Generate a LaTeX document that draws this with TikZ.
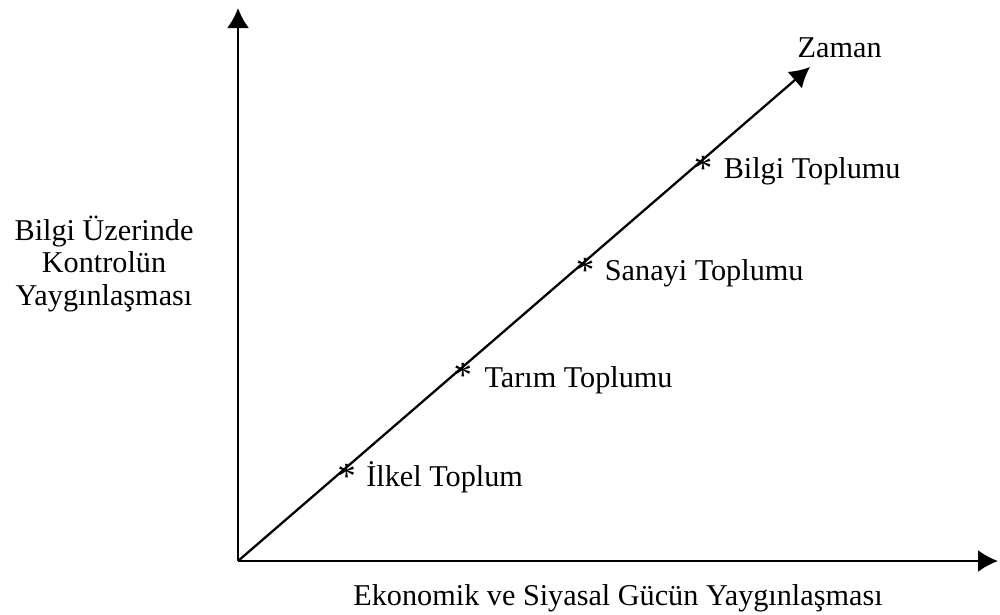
\documentclass[tikz,border=0pt]{standalone}
\usepackage{fontspec}
\setmainfont{Liberation Serif}
\usetikzlibrary{arrows.meta, positioning, calc}

\begin{document}
\begin{tikzpicture}[
	font=\fontsize{8.6pt}{9.3pt}\selectfont,
	>={Latex[length=0.2cm, width=0.22cm]},
	% Style for the two axes and the time line
	axis/.style={line width=0.65pt, ->},
	% Style for the asterisk marks on the time line
	yildiz/.style={inner sep=0pt, yshift=-0.09cm, font=\fontsize{10.5pt}{10.5pt}\selectfont},
	% Style for the society labels
	etiket/.style={inner sep=0pt, anchor=base west}
	]
	
	\useasboundingbox (0,0) rectangle (10,6.14);
	
	% 1. Origin and arrow ends
	\coordinate (O) at (2.38,0.53);
	\coordinate (Ytop) at (2.38,6.06);
	\coordinate (Xend) at (9.98,0.53);
	\coordinate (Tend) at (8.10,5.47);
	
	% 2. Axes and time arrow
	\draw[axis] (O) -- (Ytop);
	\draw[axis] (O) -- (Xend);
	\draw[axis] (O) -- (Tend);
	
	% 3. Points on the time line
	\coordinate (p1) at ($(O)!0.19!(Tend)$);
	\coordinate (p2) at ($(O)!0.393!(Tend)$);
	\coordinate (p3) at ($(O)!0.607!(Tend)$);
	\coordinate (p4) at ($(O)!0.813!(Tend)$);
	
	\node[yildiz] (s1) at (p1) {*};
	\node[yildiz] (s2) at (p2) {*};
	\node[yildiz] (s3) at (p3) {*};
	\node[yildiz] (s4) at (p4) {*};
	
	% 4. Society labels
	\node[etiket] (ilkel) at ([xshift=0.19cm, yshift=-0.19cm]p1) {İlkel Toplum};
	\node[etiket] (tarim) at ([xshift=0.21cm, yshift=-0.21cm]p2) {Tarım Toplumu};
	\node[etiket] (sanayi) at ([xshift=0.19cm, yshift=-0.19cm]p3) {Sanayi Toplumu};
	\node[etiket] (bilgi) at ([xshift=0.20cm, yshift=-0.19cm]p4) {Bilgi Toplumu};
	\node[etiket] (zaman) at ([xshift=-0.13cm, yshift=0.10cm]Tend) {Zaman};
	
	% 5. Axis titles
	\node[align=center] (ybaslik) at (1.04,3.50) {Bilgi Üzerinde\\Kontrolün\\Yaygınlaşması};
	\node[anchor=base] (xbaslik) at (6.18,0.09) {Ekonomik ve Siyasal Gücün Yaygınlaşması};
	
\end{tikzpicture}
\end{document}
